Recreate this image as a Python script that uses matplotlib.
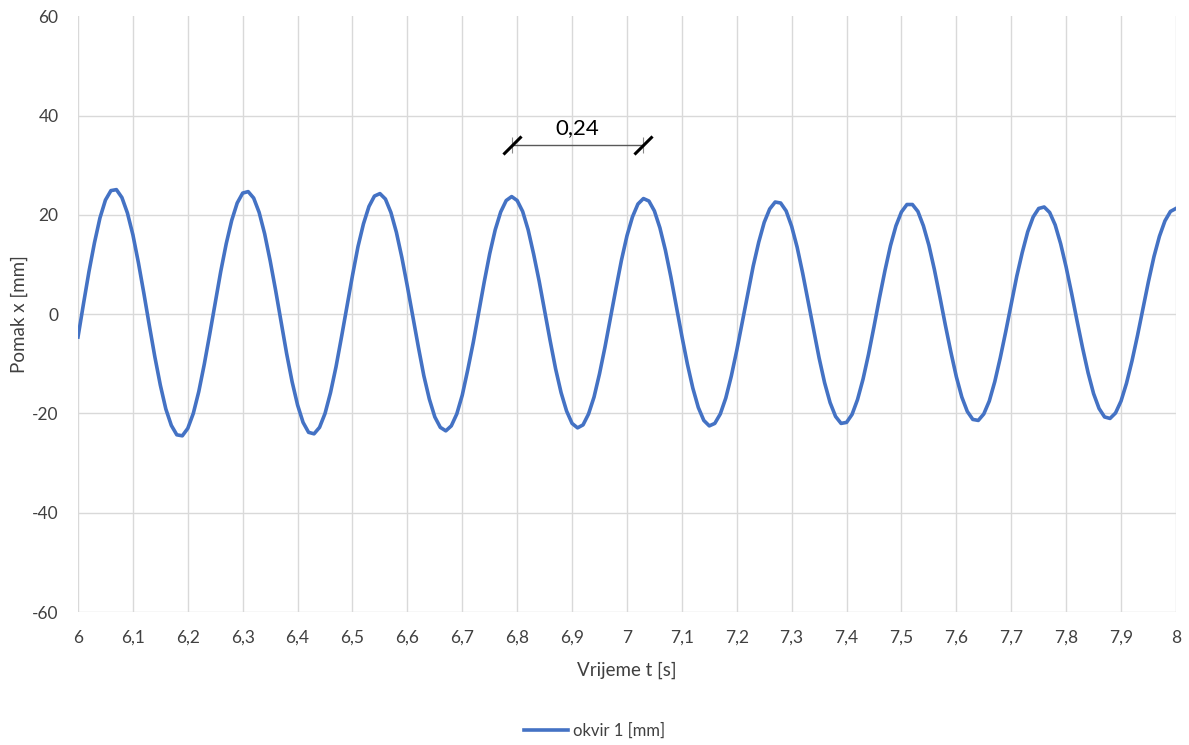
import matplotlib
matplotlib.use("Agg")
import matplotlib.pyplot as plt
import numpy as np

plt.rcParams['font.family'] = ['Lato', 'DejaVu Sans']

# time axis [s]
t_start = 6.0
t_step = 0.01
pomak_x = [
    -4.6, 2.1, 8.6, 14.4, 19.4, 23.0, 24.9, 25.1, 23.5, 20.4,
    16.0, 10.4, 4.2, -2.3, -8.6, -14.3, -19.1, -22.4, -24.3, -24.5,
    -23.0, -20.0, -15.6, -10.1, -4.0, 2.3, 8.6, 14.2, 18.9, 22.4,
    24.4, 24.7, 23.4, 20.5, 16.2, 10.8, 4.8, -1.6, -7.9, -13.6,
    -18.3, -21.8, -23.8, -24.1, -22.8, -20.0, -15.8, -10.6, -4.6, 1.6,
    7.8, 13.6, 18.2, 21.7, 23.8, 24.3, 23.2, 20.5, 16.5, 11.4,
    5.6, -0.5, -6.6, -12.4, -17.1, -20.7, -22.8, -23.5, -22.5, -20.1,
    -16.3, -11.2, -5.7, 0.4, 6.5, 12.2, 17.0, 20.6, 22.9, 23.7,
    22.9, 20.7, 17.0, 12.1, 6.7, 0.7, -5.3, -11.0, -15.8, -19.5,
    -22.0, -22.9, -22.3, -20.1, -16.7, -12.0, -6.6, -0.7, 5.2, 10.9,
    15.8, 19.6, 22.2, 23.3, 22.8, 20.8, 17.4, 12.9, 7.5, 1.6,
    -4.4, -10.0, -14.9, -18.8, -21.4, -22.5, -22.0, -20.1, -16.9, -12.5,
    -7.3, -1.6, 4.2, 9.7, 14.5, 18.5, 21.2, 22.6, 22.4, 20.8,
    17.7, 13.5, 8.3, 2.6, -3.2, -8.8, -13.8, -17.8, -20.6, -22.0,
    -21.8, -20.2, -17.2, -13.1, -8.1, -2.5, 3.3, 8.8, 13.8, 17.8,
    20.6, 22.1, 22.1, 20.7, 17.8, 13.9, 9.0, 3.5, -2.2, -7.6,
    -12.6, -16.7, -19.6, -21.2, -21.4, -20.1, -17.5, -13.6, -8.8, -3.5,
    2.1, 7.6, 12.4, 16.6, 19.6, 21.3, 21.6, 20.5, 18.0, 14.2,
    9.5, 4.2, -1.4, -6.8, -11.8, -16.0, -19.0, -20.7, -21.0, -19.9,
    -17.5, -13.9, -9.4, -4.3, 1.2, 6.6, 11.6, 15.7, 18.8, 20.7,
    21.3,
]
vrijeme = [round(t_start + i * t_step, 2) for i in range(len(pomak_x))]

x_ticks = [6.0, 6.1, 6.2, 6.3, 6.4, 6.5, 6.6, 6.7, 6.8, 6.9, 7.0,
           7.1, 7.2, 7.3, 7.4, 7.5, 7.6, 7.7, 7.8, 7.9, 8.0]
x_tick_labels = ["6", "6,1", "6,2", "6,3", "6,4", "6,5", "6,6", "6,7", "6,8", "6,9", "7",
                 "7,1", "7,2", "7,3", "7,4", "7,5", "7,6", "7,7", "7,8", "7,9", "8"]
y_ticks = [-60, -40, -20, 0, 20, 40, 60]
y_tick_labels = ["-60", "-40", "-20", "0", "20", "40", "60"]

series_label = "okvir 1 [mm]"
period_start = 6.79
period_value = 0.24
period_level = 34
period_text = "0,24"

fig = plt.figure(figsize=(11.89, 7.45), dpi=100)
ax = fig.add_axes([0.0656, 0.1785, 0.9234, 0.7995])

line_color = "#4472C4"
grid_color = "#D9D9D9"
text_color = "#404040"

ax.plot(vrijeme, pomak_x, color=line_color, lw=2.6, solid_joinstyle='round',
        label=series_label, zorder=3)

ax.set_xlim(6, 8)
ax.set_ylim(-60, 60)
ax.set_xticks(x_ticks)
ax.set_xticklabels(x_tick_labels)
ax.set_yticks(y_ticks)
ax.set_yticklabels(y_tick_labels)
ax.tick_params(axis='both', length=0, labelsize=12.5, colors=text_color)
ax.tick_params(axis='x', pad=13)
ax.tick_params(axis='y', pad=14)

for s in ax.spines.values():
    s.set_visible(False)
ax.grid(True, color=grid_color, lw=1.0, zorder=0)
ax.set_axisbelow(True)
# no gridline on the top edge
for gl, v in zip(ax.get_ygridlines(), y_ticks):
    if v == 60:
        gl.set_visible(False)

ax.set_xlabel("Vrijeme t [s]", fontsize=13.5, color=text_color, labelpad=11)
ax.set_ylabel("Pomak x [mm]", fontsize=13.5, color=text_color, labelpad=3)

# period dimension annotation
p_end = period_start + period_value
ax.plot([period_start, p_end], [period_level, period_level], color="#595959", lw=1.0, zorder=4)
ax.plot([period_start, p_end], [period_level, period_level], ls='none',
        marker='|', markersize=12, markeredgewidth=0.8, color="#8c8c8c", zorder=4)
slash = [(-1, -1), (1, 1)]
ax.plot([period_start, p_end], [period_level, period_level], ls='none',
        marker=slash, markersize=13, markeredgewidth=2.2, color="black", zorder=5)
ax.text((period_start + p_end) / 2, period_level + 1.4, period_text, ha='center', va='bottom',
        fontsize=16, color="black")

leg = fig.legend(loc='lower center', bbox_to_anchor=(0.5, -0.012), frameon=False,
                 fontsize=12, handlelength=2.6, handletextpad=0.3)
for txt in leg.get_texts():
    txt.set_color(text_color)

fig.savefig("out.png", dpi=100)
